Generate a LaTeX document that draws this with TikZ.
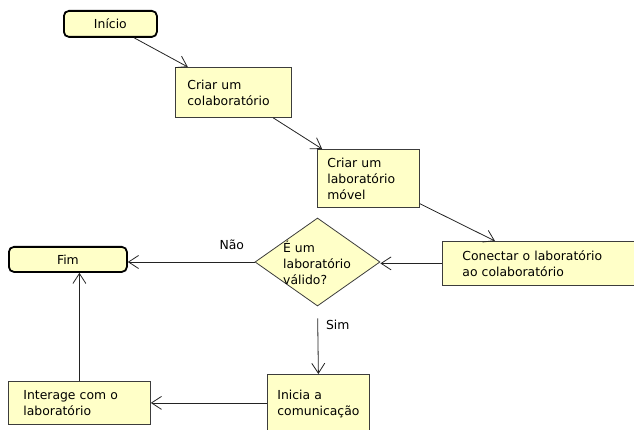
\documentclass[tikz,border=0pt]{standalone}
\usepackage{fontspec}
\setmainfont{DejaVu Sans}
\usetikzlibrary{shapes.geometric,arrows.meta,calc}
\definecolor{boxfill}{RGB}{255,255,200}
\definecolor{boxline}{RGB}{60,60,60}
\definecolor{wire}{RGB}{35,35,35}
\begin{document}
\begin{tikzpicture}[x=1pt,y=-1pt,
  font=\fontsize{12.4}{16}\selectfont,
  block/.style={draw=boxline, fill=boxfill, line width=0.8pt, anchor=north west,
    align=left, inner ysep=0pt},
  terminal/.style={draw=black, fill=boxfill, line width=1.8pt, rounded corners=5pt,
    anchor=north west, align=center, inner sep=0pt},
  decision/.style={diamond, draw=boxline, fill=boxfill, line width=0.8pt, inner sep=0pt},
  flow/.style={draw=wire, line width=0.8pt, -{Straight Barb[length=10pt,width=13pt]}},
  flowlabel/.style={inner sep=0pt}]
\useasboundingbox (0,0) rectangle (634,430);
\clip (0,0) rectangle (634,430);

% start and end
\node[terminal, minimum width=93pt, minimum height=26pt] (inicio) at (63,10) {Início};
\node[terminal, minimum width=118pt, minimum height=25pt] (fim) at (8,246) {Fim};

% activities
\node[block, text width=92pt, inner xsep=12pt, minimum height=50pt] (colab) at (175,67)
  {Criar um\\colaboratório};
\node[block, text width=82pt, inner xsep=10pt, minimum height=58pt] (lab) at (317,149)
  {Criar um\\laboratório\\móvel};
\node[block, text width=180pt, inner xsep=20pt, minimum height=44pt] (conectar) at (442,241)
  {Conectar o laboratório\\ao colaboratório};
\node[block, text width=82pt, inner xsep=10pt, minimum height=60pt] (inicia) at (267,374)
  {Inicia a\\comunicação};
\node[block, text width=112pt, inner xsep=15pt, minimum height=43pt] (interage) at (8,381)
  {Interage com o\\laboratório};

% decision
\node[decision, minimum width=125pt, minimum height=88pt] (valid) at (317.5,262) {};
\node[anchor=west, align=left, inner sep=0pt] (validtext) at (283,263)
  {É um\\laboratório\\válido?};

% connectors
\draw[flow] ($(inicio.south west)!0.75!(inicio.south east)$)
  -- ($(colab.north west)!0.11!(colab.north east)$);
\draw[flow] ($(colab.south west)!0.84!(colab.south east)$)
  -- ($(lab.north west)!0.05!(lab.north east)$);
\draw[flow] ($(lab.north east)!0.93!(lab.south east)$)
  -- ($(conectar.north west)!0.24!(conectar.north east)$);
\draw[flow] (conectar.west) -- (conectar.west -| valid.east);
\draw[flow] (valid.west) -- (valid.west -| fim.east)
  node[flowlabel, pos=0.18, yshift=17pt] (nao) {Não};
\draw[flow, shorten <=12pt] (valid.south) -- (inicia.north)
  node[flowlabel, pos=0.28, xshift=20pt] (sim) {Sim};
\draw[flow] (inicia.west |- interage.east) -- (interage.east);
\draw[flow] (interage.north) -- (interage.north |- fim.south);
\end{tikzpicture}
\end{document}
